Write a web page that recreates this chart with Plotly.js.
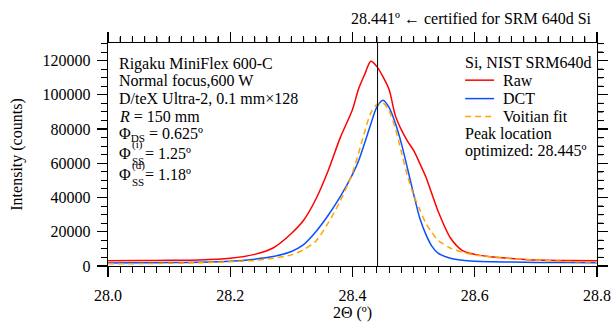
<!DOCTYPE html>
<html>
<head>
<meta charset="utf-8">
<script src="https://cdn.plot.ly/plotly-3.0.1.min.js"></script>
<style>html,body{margin:0;padding:0;background:#fff;}#chart{width:611px;height:323px;}</style>
</head>
<body>
<div id="chart"></div>
<script>
// 2-theta positions (degrees)
const twoTheta = [28.00, 28.05, 28.10, 28.15, 28.20, 28.24, 28.27, 28.30, 28.32, 28.34, 28.36, 28.38, 28.40, 28.41, 28.42, 28.43, 28.44, 28.45, 28.46, 28.47, 28.48, 28.49, 28.50, 28.51, 28.52, 28.53, 28.54, 28.56, 28.58, 28.60, 28.63, 28.66, 28.70, 28.75, 28.80];
// Raw intensity (counts)
const rawCounts = [3000, 3200, 3300, 3500, 4500, 6800, 10500, 19000, 26700, 39000, 55500, 75000, 91500, 103500, 112000, 119600, 116500, 110500, 103000, 88000, 79500, 73000, 67500, 60000, 52000, 42000, 32000, 16500, 9000, 6800, 5200, 4400, 3500, 3200, 3000];
// DCT intensity (counts)
const dctCounts = [1800, 1900, 2000, 2200, 2800, 4000, 5500, 8500, 12500, 20000, 29500, 40500, 53500, 61500, 72000, 83000, 93000, 96800, 92500, 83500, 71500, 57000, 42000, 28000, 18500, 11500, 7500, 4500, 3300, 2800, 2500, 2300, 2100, 2000, 1900];
// Voigtian fit (counts)
const fitCounts = [1300, 1400, 1600, 1900, 2500, 3300, 4500, 6500, 9500, 14500, 25000, 38000, 54500, 66000, 78500, 89500, 94500, 95300, 90500, 80500, 66500, 52500, 41500, 33000, 25000, 19500, 15000, 10500, 8000, 6500, 5200, 4400, 3500, 2700, 2200];
const seriesNames = ["Raw", "DCT", "Voitian fit"];
const seriesColors = ["#ff0000", "#0a50ff", "#ffa500"];
const xTickVals = [28.0, 28.2, 28.4, 28.6, 28.8];
const yTickVals = [0, 20000, 40000, 60000, 80000, 100000, 120000];
const xMinorStep = 0.02, yMinorStep = 5000;
const certifiedPeak = 28.441;

const FONT = "Liberation Serif, Times New Roman, serif";
const FS = 16;
const W = 611, H = 323;
const L = 107.5, R = 597, T = 42.7, B = 266.5;
const px = x => (x - L) / (R - L);
const py = y => (B - y) / (B - T);
const X_RANGE = [28.0, 28.8], Y_RANGE = [0, 130300];
const xFrac = v => (v - X_RANGE[0]) / (X_RANGE[1] - X_RANGE[0]);
const yFrac = v => (v - Y_RANGE[0]) / (Y_RANGE[1] - Y_RANGE[0]);

const traces = [
  {x: twoTheta, y: rawCounts, name: seriesNames[0], mode: "lines", line: {color: seriesColors[0], width: 1.5}},
  {x: twoTheta, y: dctCounts, name: seriesNames[1], mode: "lines", line: {color: seriesColors[1], width: 1.5}},
  {x: twoTheta, y: fitCounts, name: seriesNames[2], mode: "lines", line: {color: seriesColors[2], width: 1.5, dash: "6px,4px"}}
];
traces.forEach(t => { t.line.shape = "spline"; t.line.smoothing = 0.8; t.showlegend = false; });

const tf = {family: FONT, size: FS, color: "#000"};
const axisCommon = {
  showline: true, linecolor: "#000", linewidth: 1.2, mirror: "ticks",
  ticks: "outside", ticklen: 10, tickwidth: 1.2, tickcolor: "#000",
  showgrid: false, zeroline: false, tickfont: tf
};

const textLines = [
  {t: "Rigaku MiniFlex 600-C", y: 63.3},
  {t: "Normal focus,600 W", y: 80.5},
  {t: "D/teX Ultra-2, 0.1 mm×128", y: 98.3},
  {t: "<i>R</i> = 150 mm", y: 116.3},
  {t: "Φ<sub>DS</sub> = 0.625º", y: 134.5}
];
const ann = (x, y, text, size, anchor) => ({
  xref: "paper", yref: "paper", x: px(x), y: py(y), xanchor: anchor || "left", yanchor: "middle",
  text: text, showarrow: false, align: "left", font: {family: FONT, size: size || FS, color: "#000"}
});
const annotations = textLines.map(l => ann(117, l.y, l.t));
[[153.3, "(i)", "1.25º"], [174.3, "(d)", "1.18º"]].forEach(([y, sup, val]) => {
  annotations.push(ann(117, y, "Φ"));
  annotations.push(ann(130, y - 8.5, sup, 11));
  annotations.push(ann(130, y + 7.5, "SS", 11));
  annotations.push(ann(143, y, "= " + val));
});
// legend (title, samples, labels)
annotations.push(ann(462.5, 62.7, "Si, NIST SRM640d"));
const legendY = [80, 98.5, 116.5];
seriesNames.forEach((n, i) => annotations.push(ann(500.5, legendY[i], n)));
annotations.push(ann(462.5, 134, "Peak location"));
annotations.push(ann(462.5, 151.5, "optimized: 28.445º"));
annotations.push(ann(594, 18.3, certifiedPeak.toFixed(3) + "º ← certified for SRM 640d Si", FS, "right"));

const shapes = [{type: "line", xref: "x", yref: "paper", x0: certifiedPeak, x1: certifiedPeak, y0: 0, y1: 1,
  line: {color: "#000", width: 1}}];
seriesNames.forEach((n, i) => shapes.push({type: "line", xref: "paper", yref: "paper",
  x0: px(465), x1: px(494), y0: py(legendY[i]), y1: py(legendY[i]),
  line: {color: seriesColors[i], width: 1.5, dash: i === 2 ? "6px,4px" : "solid"}}));
// mirrored minor ticks on the top and right frame edges (paper refs, so they are not clipped)
const minorLen = 6;
for (let k = 1; k * xMinorStep < X_RANGE[1] - X_RANGE[0] - 1e-9; k++) {
  const xv = +(X_RANGE[0] + k * xMinorStep).toFixed(4);
  if (xTickVals.some(v => Math.abs(v - xv) < 1e-6)) continue;
  shapes.push({type: "line", xref: "paper", yref: "paper", x0: xFrac(xv), x1: xFrac(xv),
    y0: 1, y1: 1 + minorLen / (B - T), line: {color: "#000", width: 1.1}});
}
for (let k = 1; k * yMinorStep < Y_RANGE[1] - Y_RANGE[0]; k++) {
  const yv = Y_RANGE[0] + k * yMinorStep;
  if (yTickVals.indexOf(yv) >= 0) continue;
  shapes.push({type: "line", xref: "paper", yref: "paper", x0: 1, x1: 1 + minorLen / (R - L),
    y0: yFrac(yv), y1: yFrac(yv), line: {color: "#000", width: 1.1}});
}

const xMinor = {dtick: xMinorStep, ticklen: minorLen, tickwidth: 1, tickcolor: "#000", ticks: "outside", showgrid: false};
const yMinor = {dtick: yMinorStep, ticklen: minorLen, tickwidth: 1, tickcolor: "#000", ticks: "outside", showgrid: false};

const layout = {
  width: W, height: H,
  margin: {l: L, r: W - R, t: T, b: H - B, pad: 0},
  paper_bgcolor: "#fff", plot_bgcolor: "#fff",
  font: tf, showlegend: false,
  xaxis: Object.assign({}, axisCommon, {
    range: X_RANGE, tickvals: xTickVals, tickformat: ".1f", ticklabelstandoff: 5,
    minor: xMinor,
    title: {text: "2Θ (º)", font: tf, standoff: 2}
  }),
  yaxis: Object.assign({}, axisCommon, {
    range: Y_RANGE, tickvals: yTickVals, tickformat: "d", ticklabelstandoff: 3,
    minor: yMinor,
    title: {text: "Intensity (counts)", font: tf, standoff: 16}
  }),
  shapes: shapes,
  annotations: annotations
};

Plotly.newPlot("chart", traces, layout, {staticPlot: true, displayModeBar: false});
</script>
</body>
</html>
